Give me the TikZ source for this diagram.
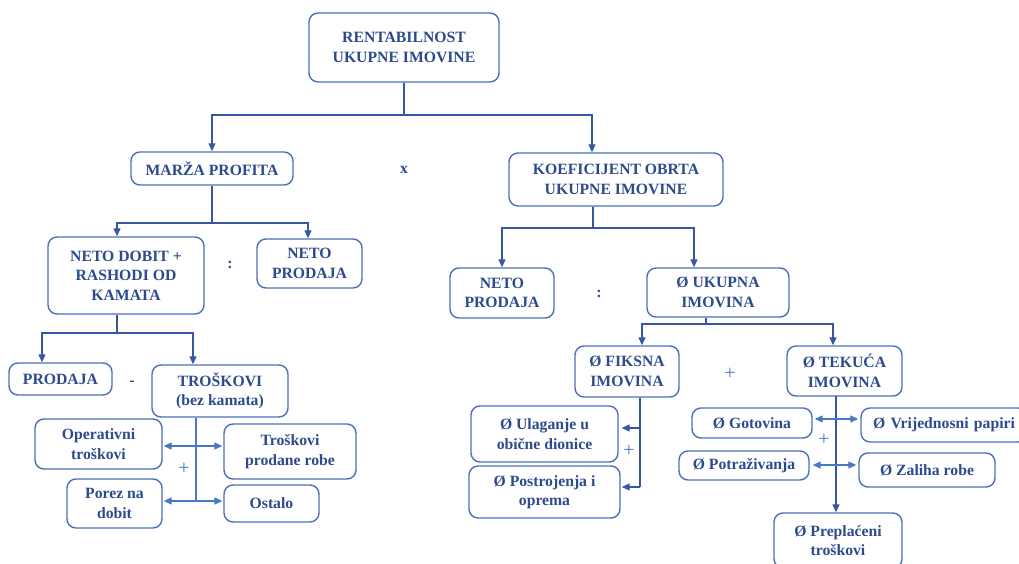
\documentclass[tikz,border=0pt]{standalone}
\usepackage{fontspec}
\setmainfont{Liberation Serif}
\usetikzlibrary{arrows.meta,calc}
\definecolor{txtblue}{HTML}{2C4A8C}
\definecolor{boxblue}{HTML}{4A70B5}
\definecolor{lineblue}{HTML}{3558A0}
\definecolor{litblue}{HTML}{4A76C6}
\begin{document}
\begin{tikzpicture}[x=1pt,y=-1pt,
  box/.style={draw=boxblue,line width=1.4pt,rounded corners=9pt,align=center,inner sep=0pt,
    text=txtblue,font=\fontsize{15.7}{19.5}\selectfont\bfseries},
  conn/.style={draw=lineblue,line width=1.3pt},
  arr/.style={conn,-{Triangle[length=8pt,width=7pt]}},
  darr/.style={draw=litblue,line width=1.3pt,{Triangle[length=8pt,width=7pt]}-{Triangle[length=8pt,width=7pt]}},
  op/.style={text=txtblue,font=\fontsize{15.7}{19.5}\selectfont\bfseries,inner sep=0pt},
  opl/.style={text=litblue,font=\fontsize{20}{20}\selectfont,inner sep=0pt}]
\useasboundingbox (0,0) rectangle (1019,564);
% nodes
\node[box,minimum width=190pt,minimum height=69pt] (rent) at (404,47.5) {RENTABILNOST\\UKUPNE IMOVINE};
\node[box,minimum width=162pt,minimum height=33pt] (marza) at (212,168.5) {MARŽA PROFITA};
\node[box,minimum width=214pt,minimum height=53pt] (koef) at (616,179.5) {KOEFICIJENT OBRTA\\UKUPNE IMOVINE};
\node[box,minimum width=156pt,minimum height=77pt] (ndobit) at (126,275.5) {NETO DOBIT +\\RASHODI OD\\KAMATA};
\node[box,minimum width=105pt,minimum height=49pt] (nprodL) at (309.5,263.5) {NETO\\PRODAJA};
\node[box,minimum width=104pt,minimum height=50pt] (nprodR) at (502,293) {NETO\\PRODAJA};
\node[box,minimum width=142pt,minimum height=49pt] (ukupna) at (718,292.5) {Ø UKUPNA\\IMOVINA};
\node[box,minimum width=103pt,minimum height=32pt] (prodaja) at (60.5,379) {PRODAJA};
\node[box,minimum width=136pt,minimum height=52pt] (trosk) at (220,391) {TROŠKOVI\\(bez kamata)};
\node[box,minimum width=127pt,minimum height=50pt] (oper) at (98.5,444) {Operativni\\troškovi};
\node[box,minimum width=132pt,minimum height=55pt] (tpr) at (290,451.5) {Troškovi\\prodane robe};
\node[box,minimum width=95pt,minimum height=49pt] (porez) at (114.5,503.5) {Porez na\\dobit};
\node[box,minimum width=95pt,minimum height=37pt] (ostalo) at (271.5,503.5) {Ostalo};
\node[box,minimum width=104pt,minimum height=51pt] (fiksna) at (627,371.5) {Ø FIKSNA\\IMOVINA};
\node[box,minimum width=115pt,minimum height=50pt] (tekuca) at (844.5,371) {Ø TEKUĆA\\IMOVINA};
\node[box,minimum width=147pt,minimum height=56pt] (ulag) at (544.5,434) {Ø Ulaganje u\\obične dionice};
\node[box,minimum width=151pt,minimum height=52pt] (postr) at (544.5,492) {Ø Postrojenja i\\oprema};
\node[box,minimum width=120pt,minimum height=30pt] (gotov) at (752,423) {Ø Gotovina};
\node[box,minimum width=166pt,minimum height=34pt,text width=166pt] (vrij) at (944,425) {Ø Vrijednosni papiri};
\node[box,minimum width=130pt,minimum height=29pt] (potr) at (744,465.5) {Ø Potraživanja};
\node[box,minimum width=136pt,minimum height=34pt] (zaliha) at (927,470) {Ø Zaliha robe};
\node[box,minimum width=128pt,minimum height=55pt] (prepl) at (838,540.5) {Ø Preplaćeni\\troškovi};
% operators
\node[op] (opx) at (404,170) {x};
\node[op] (opc1) at (230,265) {:};
\node[op] (opc2) at (599,294) {:};
\node[op] (opm) at (132,383) {-};
\node[opl] (opp1) at (184,469) {+};
\node[opl] (opp2) at (730,374) {+};
\node[opl] (opp3) at (629,451) {+};
\node[opl] (opp4) at (824,440) {+};
% connectors
\draw[arr] (rent.south) -- (404,115) -| (marza.north);
\draw[arr] (rent.south) -- (404,115) -| ([xshift=-24pt]koef.north);
\draw[arr] (marza.south) -- (212,223) -| ([xshift=-9pt]ndobit.north);
\draw[arr] (marza.south) -- (212,223) -| ([xshift=-1.5pt]nprodL.north);
\draw[arr] ([xshift=-23pt]koef.south) -- (593,228) -| (nprodR.north);
\draw[arr] ([xshift=-23pt]koef.south) -- (593,228) -| ([xshift=-24pt]ukupna.north);
\draw[arr] ([xshift=-12pt]ukupna.south) -- (706,324) -| ([xshift=15pt]fiksna.north);
\draw[arr] ([xshift=-12pt]ukupna.south) -- (706,324) -| ([xshift=-11.5pt]tekuca.north);
\draw[arr] ([xshift=-9pt]ndobit.south) -- (117,333) -| ([xshift=-18.5pt]prodaja.north);
\draw[arr] ([xshift=-9pt]ndobit.south) -- (117,333) -| ([xshift=-27pt]trosk.north);
% troskovi breakdown
\coordinate (ta) at (196,446);
\coordinate (tb) at (196,501);
\draw[conn,draw=litblue] ([xshift=-24pt]trosk.south) -- (tb);
\draw[darr] ([xshift=1pt]oper.east |- ta) -- ([xshift=-1pt]tpr.west |- ta);
\draw[darr] ([xshift=1pt]porez.east |- tb) -- ([xshift=-1pt]ostalo.west |- tb);
% fiksna breakdown
\coordinate (fa) at (640,428);
\coordinate (fb) at (640,487);
\draw[conn] ([xshift=13pt]fiksna.south) -- (fb);
\draw[arr] (fa) -- ([xshift=3pt]ulag.east |- fa);
\draw[arr] (fb) -- ([xshift=1pt]postr.east |- fb);
% tekuca breakdown
\coordinate (tk) at (836,396);
\coordinate (tg) at (836,419);
\coordinate (tp) at (836,465);
\draw[arr] (tk) -- (tk |- prepl.north);
\draw[darr] ([xshift=2pt]gotov.east |- tg) -- ([xshift=-2pt]vrij.west |- tg);
\draw[darr] ([xshift=3pt]potr.east |- tp) -- ([xshift=-2pt]zaliha.west |- tp);
\end{tikzpicture}
\end{document}
